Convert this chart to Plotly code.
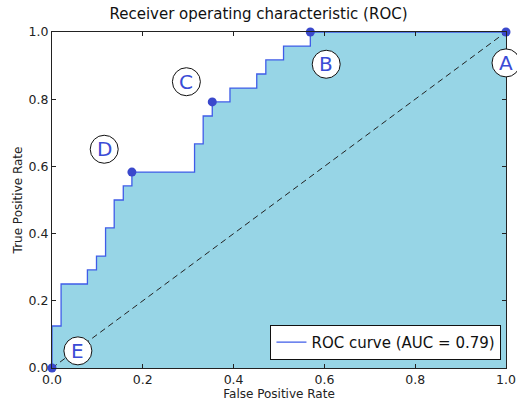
import plotly.graph_objects as go

# ROC curve corner points
fpr = [0.0, 0.0, 0.020, 0.020, 0.078, 0.078, 0.098, 0.098, 0.118, 0.118, 0.137, 0.137,
       0.157, 0.157, 0.176, 0.176, 0.314, 0.314, 0.333, 0.333, 0.353, 0.353, 0.392, 0.392,
       0.451, 0.451, 0.471, 0.471, 0.510, 0.510, 0.569, 0.569, 1.0]
tpr = [0.0, 0.125, 0.125, 0.250, 0.250, 0.292, 0.292, 0.333, 0.333, 0.417, 0.417, 0.500,
       0.500, 0.542, 0.542, 0.583, 0.583, 0.667, 0.667, 0.750, 0.750, 0.792, 0.792, 0.833,
       0.833, 0.875, 0.875, 0.917, 0.917, 0.958, 0.958, 1.0, 1.0]

# highlighted operating points
point_names = ["A", "B", "C", "D", "E"]
point_fpr = [1.0, 0.569, 0.353, 0.176, 0.0]
point_tpr = [1.0, 1.0, 0.792, 0.583, 0.0]

# letter label positions
label_x = [1.0, 0.604, 0.296, 0.115, 0.057]
label_y = [0.908, 0.904, 0.852, 0.651, 0.051]

diag = [0.0, 1.0]
tick_vals = [0.0, 0.2, 0.4, 0.6, 0.8, 1.0]
tick_text = ["0.0", "0.2", "0.4", "0.6", "0.8", "1.0"]
legend_name = "ROC curve (AUC = 0.79)"

FONT = "DejaVu Sans"
fig = go.Figure()

fig.add_trace(go.Scatter(x=fpr, y=tpr, mode="lines", fill="tozeroy",
                         fillcolor="#97d5e6", line=dict(width=0, color="#97d5e6"),
                         showlegend=False, hoverinfo="skip"))
fig.add_trace(go.Scatter(x=diag, y=diag, mode="lines",
                         line=dict(color="#222222", width=1, dash="6px,4px"),
                         showlegend=False))
fig.add_trace(go.Scatter(x=fpr, y=tpr, mode="lines", name=legend_name,
                         line=dict(color="#3f5ce8", width=1.3)))
fig.add_trace(go.Scatter(x=point_fpr, y=point_tpr, mode="markers", cliponaxis=False,
                         marker=dict(color="#3a48cc", size=9), showlegend=False))

shapes = []
annotations = []
for name, lx, ly in zip(point_names, label_x, label_y):
    shapes.append(dict(type="circle", xref="paper", yref="paper",
                       xsizemode="pixel", ysizemode="pixel",
                       xanchor=lx, yanchor=ly, x0=-14, x1=14, y0=-14, y1=14,
                       fillcolor="white", line=dict(color="#111111", width=1)))
    annotations.append(dict(x=lx, y=ly, xref="paper", yref="paper", text=name,
                            showarrow=False, xanchor="center", yanchor="middle",
                            font=dict(family=FONT, size=20, color="#3b4cd6")))

axis_common = dict(range=[0, 1], tickvals=tick_vals, ticktext=tick_text,
                   ticks="inside", ticklen=4, tickcolor="#222222",
                   showline=True, linecolor="#222222", linewidth=1, mirror="ticks",
                   showgrid=False, zeroline=False, automargin=False,
                   tickfont=dict(family=FONT, size=12.5, color="#222222"))

fig.update_layout(
    width=517, height=403, autosize=False,
    margin=dict(l=52, r=11, t=32, b=35),
    paper_bgcolor="white", plot_bgcolor="white",
    title=dict(text="Receiver operating characteristic (ROC)", x=0.5, xanchor="center",
               y=1 - 14 / 403, yanchor="middle",
               font=dict(family=FONT, size=15, color="#111111")),
    xaxis=dict(axis_common, title=dict(text="False Positive Rate", standoff=3,
                                       font=dict(family=FONT, size=12, color="#222222"))),
    yaxis=dict(axis_common, title=dict(text="True Positive Rate", standoff=3,
                                       font=dict(family=FONT, size=12, color="#222222"))),
    legend=dict(x=0.99, y=0.024, xanchor="right", yanchor="bottom",
                bgcolor="white", bordercolor="#111111", borderwidth=1,
                font=dict(family=FONT, size=15, color="#111111")),
    shapes=shapes, annotations=annotations,
)

fig.write_html("out.html", config={"displayModeBar": False},
               post_script="document.body.style.margin='0';")
